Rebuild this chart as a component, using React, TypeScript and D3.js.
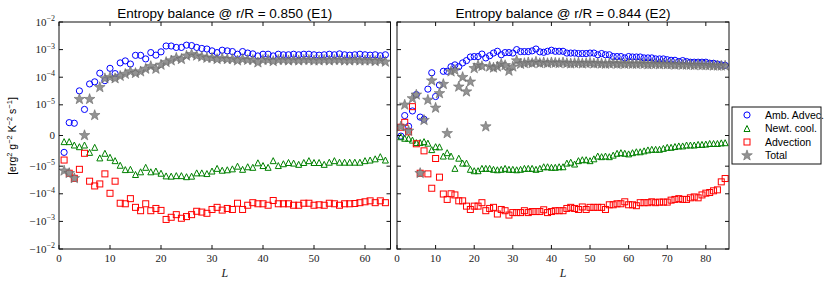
import React, { useEffect, useRef } from 'react';
import * as d3 from 'd3';

// --- data ---
const L1 = d3.range(1, 65);
const L2 = d3.range(1, 86);

const ambAdv1 = [
  -5.5e-6, 4.2e-6, 4e-6, 3.2e-5, 8.5e-6, 5.7e-5, 6.8e-5, 1.4e-4, 7.5e-5, 2.1e-4,
  1.35e-4, 3.3e-4, 3.9e-4, 3e-4, 6.2e-4, 6.2e-4, 4.6e-4, 7.8e-4, 6.3e-4, 8.3e-4,
  1.35e-3, 1.35e-3, 1.2e-3, 1.2e-3, 1.45e-3, 1.4e-3, 1.2e-3, 1.1e-3, 1.05e-3, 9e-4,
  7.8e-4, 9.5e-4, 9e-4, 8.5e-4, 6.8e-4, 8.5e-4, 7.5e-4, 7e-4, 5.9e-4, 6.8e-4,
  6.8e-4, 5.9e-4, 6.8e-4, 6.5e-4, 6.5e-4, 6.8e-4, 6.5e-4, 6.8e-4, 6.8e-4, 6.5e-4,
  6.3e-4, 6.5e-4, 6.8e-4, 6.5e-4, 7e-4, 6.5e-4, 6.3e-4, 6.5e-4, 6.8e-4, 6.5e-4,
  6.3e-4, 6.5e-4, 6e-4, 6.5e-4,
];
const newtCool1 = [
  -2e-6, -2e-6, -3.1e-6, -3.65e-6, -3.1e-6, -5.5e-6, -3.85e-6, -7.3e-6, -5.8e-6, -7.1e-6,
  -8.2e-6, -9.7e-6, -1.33e-5, -1.3e-5, -2e-5, -1.6e-5, -1.1e-5, -1.6e-5, -1.5e-5, -1.8e-5,
  -2.25e-5, -2.3e-5, -2.2e-5, -2.2e-5, -2.4e-5, -2.3e-5, -1.75e-5, -1.75e-5, -1.85e-5, -1.5e-5,
  -1.2e-5, -1.4e-5, -1.35e-5, -1.25e-5, -1e-5, -1.3e-5, -1.05e-5, -1.1e-5, -8.9e-6, -9.8e-6,
  -1.1e-5, -8.2e-6, -9.8e-6, -9.2e-6, -8.8e-6, -9e-6, -9.4e-6, -8.8e-6, -8.2e-6, -8.8e-6,
  -8.8e-6, -9.4e-6, -8.7e-6, -8.2e-6, -8.7e-6, -8.7e-6, -8.7e-6, -8.7e-6, -8.7e-6, -8.2e-6,
  -8e-6, -7.6e-6, -6.9e-6, -8e-6,
];
const advection1 = [
  -8e-6, -1.8e-5, -2.75e-5, -1.3e-5, -5.8e-6, -3.5e-5, -5.2e-5, -4.4e-5, -1.9e-5, -9.6e-5,
  -3.5e-5, -2.2e-4, -2.3e-4, -1.5e-4, -3.1e-4, -4.1e-4, -2.3e-4, -4.1e-4, -3.4e-4, -4e-4,
  -8.5e-4, -7.1e-4, -5.7e-4, -7.7e-4, -6.7e-4, -5.7e-4, -4.3e-4, -4.6e-4, -5.1e-4, -3.7e-4,
  -3.1e-4, -3.9e-4, -3.4e-4, -3.7e-4, -2.2e-4, -3.7e-4, -2.6e-4, -2.1e-4, -2.3e-4, -2.3e-4,
  -2.6e-4, -1.75e-4, -2.3e-4, -2.3e-4, -2.3e-4, -2.6e-4, -2.6e-4, -2.2e-4, -2.2e-4, -2.6e-4,
  -2.5e-4, -2.6e-4, -2.2e-4, -2.3e-4, -2.6e-4, -2.3e-4, -2.3e-4, -2.25e-4, -2.1e-4, -1.95e-4,
  -1.8e-4, -2.1e-4, -1.8e-4, -2.1e-4,
];
const total1 = [
  -1.46e-5, -1.8e-5, -2.75e-5, 1.6e-5, 5e-8, 1.6e-5, 6.6e-6, 4.3e-5, 9e-5, 1e-4,
  9e-5, 1.1e-4, 1.3e-4, 1.6e-4, 1.4e-4, 1.6e-4, 2e-4, 2.5e-4, 2e-4, 2.8e-4,
  3.5e-4, 4e-4, 5e-4, 4.5e-4, 6e-4, 6.8e-4, 6e-4, 5.5e-4, 5e-4, 5e-4,
  4.5e-4, 4.8e-4, 4.5e-4, 4.5e-4, 4e-4, 4.5e-4, 4.2e-4, 4.2e-4, 3.4e-4, 4.2e-4,
  4.2e-4, 3.8e-4, 4.2e-4, 4.2e-4, 4e-4, 4.2e-4, 4e-4, 4.2e-4, 4.2e-4, 4e-4,
  4e-4, 4.2e-4, 4e-4, 4.2e-4, 4.2e-4, 4e-4, 4e-4, 4.2e-4, 4e-4, 4e-4,
  4e-4, 3.8e-4, 4e-4, 3.6e-4,
];

const ambAdv2 = [
  -2e-7, 6.5e-6, 3e-6, 8e-6, 2.35e-5, 6e-6, 5.3e-6, 3.7e-5, 1.45e-4, 2e-5,
  5.2e-5, 1.64e-4, 1.64e-4, 2.4e-4, 2.8e-4, 2.4e-4, 3.3e-4, 4e-4, 5.4e-4, 5.6e-4,
  5.6e-4, 6.9e-4, 5e-4, 6e-4, 7.5e-4, 8.7e-4, 6.5e-4, 7.8e-4, 7.8e-4, 7.5e-4,
  1e-3, 8.5e-4, 8.5e-4, 8.5e-4, 9e-4, 1.05e-3, 8.3e-4, 8e-4, 8.7e-4, 9.5e-4,
  8.7e-4, 8.7e-4, 8.7e-4, 7.5e-4, 7.5e-4, 7.5e-4, 7.2e-4, 7.2e-4, 7.2e-4, 7.5e-4,
  7.5e-4, 6.5e-4, 7.2e-4, 6.5e-4, 6.5e-4, 5.6e-4, 5.6e-4, 5.6e-4, 5e-4, 5.6e-4,
  5.4e-4, 5.4e-4, 5.4e-4, 5e-4, 5e-4, 5e-4, 4.6e-4, 4.6e-4, 4.6e-4, 4.3e-4,
  4.1e-4, 4.1e-4, 3.7e-4, 4e-4, 3.7e-4, 3.5e-4, 3.5e-4, 3.5e-4, 3.5e-4, 3.5e-4,
  3.2e-4, 3.2e-4, 3e-4, 2.8e-4, 2.7e-4,
];
const newtCool2 = [
  -4e-7, -9e-7, -9e-7, -1.5e-6, -2.3e-6, -2.3e-6, -2e-6, -2.5e-6, -4.6e-6, -3.65e-6,
  -3.7e-6, -6.7e-6, -5.6e-6, -6.7e-6, -1.2e-5, -7.4e-6, -9e-6, -9e-6, -1.3e-5, -1.46e-5,
  -1.46e-5, -1.2e-5, -1.2e-5, -1.2e-5, -1.3e-5, -1.35e-5, -1.3e-5, -1.2e-5, -1.3e-5, -1.3e-5,
  -1.35e-5, -1.3e-5, -1.2e-5, -1.2e-5, -1.2e-5, -1.3e-5, -1.2e-5, -1.05e-5, -1.05e-5, -1.1e-5,
  -1.1e-5, -1.05e-5, -1.05e-5, -9e-6, -8.7e-6, -9.3e-6, -8.2e-6, -7.9e-6, -7.9e-6, -8.2e-6,
  -7.6e-6, -6.7e-6, -6.9e-6, -6.7e-6, -6.9e-6, -6.4e-6, -5.8e-6, -5.6e-6, -5.8e-6, -6e-6,
  -5.6e-6, -5.3e-6, -5.3e-6, -5e-6, -4.7e-6, -4.5e-6, -4.5e-6, -4.5e-6, -4.2e-6, -3.85e-6,
  -3.85e-6, -3.6e-6, -3.4e-6, -3.4e-6, -3.1e-6, -3.1e-6, -3.1e-6, -2.9e-6, -2.9e-6, -2.8e-6,
  -2.6e-6, -2.6e-6, -2.6e-6, -2.4e-6, -2.35e-6,
];
const advection2 = [
  2.7e-6, 4.3e-6, 1.2e-6, 9.4e-6, -2.7e-6, -1.8e-5, -5e-6, -1.9e-5, -6.3e-5, -7.5e-6,
  -2.5e-5, -1.02e-4, -1.6e-4, -1e-4, -1.1e-4, -1.8e-4, -1.8e-4, -2.8e-4, -3.7e-4, -2.8e-4,
  -2.8e-4, -2.1e-4, -4.1e-4, -3.4e-4, -3.1e-4, -5.4e-4, -3.7e-4, -4.1e-4, -5.9e-4, -4.8e-4,
  -4.8e-4, -4.8e-4, -4.1e-4, -4.8e-4, -4.4e-4, -4.4e-4, -4.4e-4, -3.8e-4, -4.8e-4, -4.4e-4,
  -4.1e-4, -4.1e-4, -4.1e-4, -3.4e-4, -3.1e-4, -3.4e-4, -3.7e-4, -3e-4, -3.7e-4, -3.1e-4,
  -3.1e-4, -3.1e-4, -3.1e-4, -3.7e-4, -2.5e-4, -2.5e-4, -2.3e-4, -2.3e-4, -1.95e-4, -2.5e-4,
  -2.5e-4, -2.7e-4, -2.1e-4, -2.1e-4, -2.1e-4, -1.95e-4, -2.1e-4, -2e-4, -2e-4, -2e-4,
  -1.7e-4, -1.6e-4, -1.5e-4, -1.6e-4, -1.6e-4, -1.4e-4, -1.3e-4, -1.4e-4, -1.1e-4, -9.5e-5,
  -9e-5, -7.8e-5, -7.2e-5, -3.7e-5, -2.8e-5,
];
const total2 = [
  2.9e-6, 1e-5, 1.5e-6, 1.7e-5, 2.3e-5, -1.8e-5, 5e-6, 1.5e-5, 7.5e-5, 9e-6,
  2.6e-5, 5.6e-5, 7e-7, 1.6e-4, 1.8e-4, 4.5e-5, 1e-4, 3e-5, 6.8e-5, 2.1e-4,
  2.7e-4, 2.5e-4, 2.9e-6, 2.4e-4, 2.2e-4, 2.4e-4, 3e-4, 2.7e-4, 1.7e-4, 2.4e-4,
  4e-4, 3e-4, 3.2e-4, 3.4e-4, 3.2e-4, 3.6e-4, 3.2e-4, 3.4e-4, 3.2e-4, 3.4e-4,
  3.3e-4, 3.2e-4, 3.4e-4, 3.2e-4, 3.1e-4, 3.2e-4, 3.3e-4, 3.1e-4, 3.2e-4, 3.3e-4,
  3.1e-4, 3.2e-4, 3.1e-4, 3e-4, 3.1e-4, 3.2e-4, 3e-4, 3.1e-4, 3e-4, 3.1e-4,
  3e-4, 3e-4, 3.1e-4, 3e-4, 2.9e-4, 3e-4, 3e-4, 2.9e-4, 3e-4, 2.9e-4,
  2.9e-4, 2.8e-4, 2.9e-4, 2.8e-4, 2.8e-4, 2.8e-4, 2.7e-4, 2.8e-4, 2.7e-4, 2.7e-4,
  2.7e-4, 2.6e-4, 2.6e-4, 2.6e-4, 2.6e-4,
];

const yTickValues = [1e-2, 1e-3, 1e-4, 1e-5, 0, -1e-5, -1e-4, -1e-3, -1e-2];
const yTickExp = ['\u22122', '\u22123', '\u22124', '\u22125', '', '\u22125', '\u22124', '\u22123', '\u22122'];
const xTicks1 = [0, 10, 20, 30, 40, 50, 60];
const xTicks2 = [0, 10, 20, 30, 40, 50, 60, 70, 80];
const titles = ['Entropy balance @ r/R = 0.850 (E1)', 'Entropy balance @ r/R = 0.844 (E2)'];
const legendLabels = ['Amb. Advec.', 'Newt. cool.', 'Advection', 'Total'];

// matplotlib-style symlog, linthresh 1e-5, linscale 1
const LINTHRESH = 1e-5;
const LINSCALE = 1 / (1 - 1 / 10);
const symlog = (v: number) => {
  const a = Math.abs(v);
  if (a <= LINTHRESH) return (v / LINTHRESH) * LINSCALE;
  return Math.sign(v) * (LINSCALE + Math.log10(a / LINTHRESH));
};

const SANS = '"Liberation Sans", Arial, sans-serif';
const SERIF = '"Liberation Serif", "DejaVu Serif", serif';

const starPath = (R: number) => {
  const r = R * 0.4;
  const pts: string[] = [];
  for (let i = 0; i < 10; i++) {
    const ang = -Math.PI / 2 + (i * Math.PI) / 5;
    const rad = i % 2 === 0 ? R : r;
    pts.push(`${(rad * Math.cos(ang)).toFixed(2)},${(rad * Math.sin(ang)).toFixed(2)}`);
  }
  return 'M' + pts.join('L') + 'Z';
};

const drawMarker = (g: d3.Selection<SVGGElement, unknown, null, undefined>, kind: number, x: number, y: number) => {
  if (kind === 0) {
    g.append('circle').attr('cx', x).attr('cy', y).attr('r', 3.1)
      .attr('fill', 'none').attr('stroke', '#0000ff').attr('stroke-width', 1);
  } else if (kind === 1) {
    g.append('path').attr('d', 'M0,-3L3,3L-3,3Z').attr('transform', `translate(${x},${y})`)
      .attr('fill', 'none').attr('stroke', '#008000').attr('stroke-width', 1);
  } else if (kind === 2) {
    g.append('rect').attr('x', x - 3).attr('y', y - 3).attr('width', 6).attr('height', 6)
      .attr('fill', 'none').attr('stroke', '#ff0000').attr('stroke-width', 1);
  } else {
    g.append('path').attr('d', starPath(5.6)).attr('transform', `translate(${x},${y})`)
      .attr('fill', '#808080').attr('fill-opacity', 0.85)
      .attr('stroke', '#6a6a6a').attr('stroke-width', 0.6);
  }
};

const App = () => {
  const svgRef = useRef<SVGSVGElement | null>(null);

  useEffect(() => {
    const svg = d3.select(svgRef.current);
    svg.selectAll('*').remove();

    const top = 22;
    const bottom = 249;
    const y = d3.scaleLinear().domain([symlog(-1e-2), symlog(1e-2)]).range([bottom, top]);

    const panels = [
      { left: 59, right: 390.5, xmax: 65, L: L1, ticks: xTicks1, series: [ambAdv1, newtCool1, advection1, total1], labels: true },
      { left: 397, right: 729, xmax: 86, L: L2, ticks: xTicks2, series: [ambAdv2, newtCool2, advection2, total2], labels: false },
    ];

    panels.forEach((p, pi) => {
      const x = d3.scaleLinear().domain([0, p.xmax]).range([p.left, p.right]);
      const g = svg.append('g');

      // clip
      const clipId = `clip${pi}`;
      svg.append('clipPath').attr('id', clipId).append('rect')
        .attr('x', p.left).attr('y', top).attr('width', p.right - p.left).attr('height', bottom - top);

      const marks = g.append('g').attr('clip-path', `url(#${clipId})`);
      p.series.forEach((vals, si) => {
        vals.forEach((v, i) => drawMarker(marks, si, x(p.L[i]), y(symlog(v))));
      });

      // frame
      g.append('rect').attr('x', p.left).attr('y', top).attr('width', p.right - p.left).attr('height', bottom - top)
        .attr('fill', 'none').attr('stroke', '#111').attr('stroke-width', 1);

      // x ticks
      p.ticks.forEach(t => {
        const xp = x(t);
        g.append('line').attr('x1', xp).attr('x2', xp).attr('y1', bottom).attr('y2', bottom - 4).attr('stroke', '#111');
        g.append('line').attr('x1', xp).attr('x2', xp).attr('y1', top).attr('y2', top + 4).attr('stroke', '#111');
        g.append('text').attr('x', xp).attr('y', 262).attr('text-anchor', 'middle')
          .attr('font-family', SERIF).attr('font-size', 11).attr('fill', '#222').text(t);
      });

      // y ticks
      yTickValues.forEach((v, i) => {
        const yp = y(symlog(v));
        g.append('line').attr('x1', p.left).attr('x2', p.left + 4).attr('y1', yp).attr('y2', yp).attr('stroke', '#111');
        g.append('line').attr('x1', p.right).attr('x2', p.right - 4).attr('y1', yp).attr('y2', yp).attr('stroke', '#111');
        if (p.labels) {
          const tx = g.append('text').attr('x', p.left - 4).attr('y', yp + 3.5).attr('text-anchor', 'end')
            .attr('font-family', SERIF).attr('font-size', 11).attr('fill', '#222');
          if (v === 0) {
            tx.text('0');
          } else {
            tx.append('tspan').text((v < 0 ? '\u2212' : '') + '10');
            tx.append('tspan').attr('dy', -4.5).attr('font-size', 8).text(yTickExp[i]);
          }
        }
      });

      // title
      g.append('text').attr('x', (p.left + p.right) / 2).attr('y', 17.5).attr('text-anchor', 'middle')
        .attr('font-family', SANS).attr('font-size', 13.5).attr('fill', '#000').text(titles[pi]);

      // x label
      g.append('text').attr('x', (p.left + p.right) / 2).attr('y', 277).attr('text-anchor', 'middle')
        .attr('font-family', SERIF).attr('font-style', 'italic').attr('font-size', 12).attr('fill', '#222').text('L');
    });

    // y label
    const yl = svg.append('text').attr('transform', 'translate(16,136) rotate(-90)').attr('text-anchor', 'middle')
      .attr('font-family', SANS).attr('font-size', 10.5).attr('fill', '#000');
    const parts: [string, boolean][] = [['[erg', false], ['2', true], [' g', false], ['\u22122', true], [' K', false], ['\u22122', true], [' s', false], ['\u22121', true], [']', false]];
    let up = false;
    parts.forEach(([s, sup]) => {
      const ts = yl.append('tspan').text(s);
      if (sup && !up) { ts.attr('dy', -4).attr('font-size', 7.5); up = true; }
      else if (sup) { ts.attr('font-size', 7.5); }
      else if (!sup && up) { ts.attr('dy', 4); up = false; }
    });

    // legend
    const lg = svg.append('g');
    lg.append('rect').attr('x', 732).attr('y', 107).attr('width', 89).attr('height', 57)
      .attr('fill', '#fff').attr('stroke', '#111').attr('stroke-width', 1);
    legendLabels.forEach((lab, i) => {
      const yy = 115 + i * 13.5;
      drawMarker(lg, i, 747, yy);
      lg.append('text').attr('x', 765).attr('y', yy + 3.5).attr('font-family', SANS).attr('font-size', 10.5)
        .attr('fill', '#000').text(lab);
    });
  }, []);

  return (
    <svg ref={svgRef} width={831} height={287}
      style={{ position: 'absolute', left: 0, top: 0, background: '#fff' }} />
  );
};

export default App;
